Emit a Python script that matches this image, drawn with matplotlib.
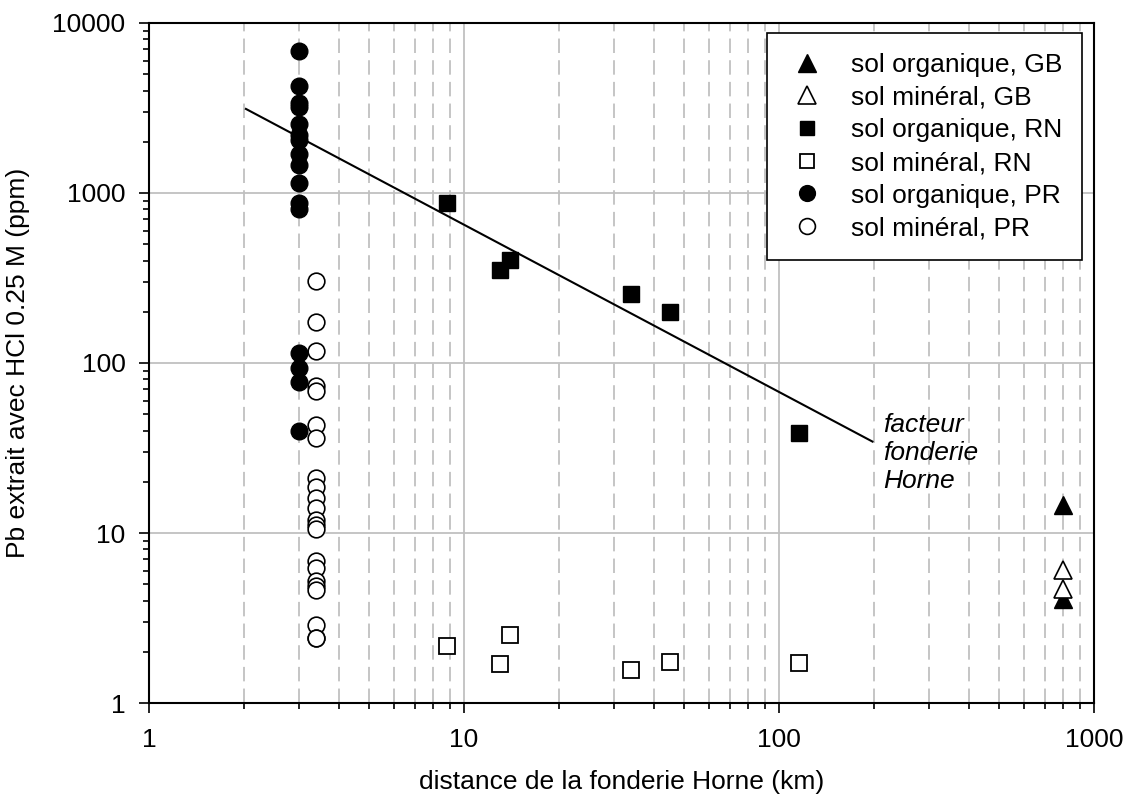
import numpy as np
import matplotlib
matplotlib.use("Agg")
import matplotlib.pyplot as plt
from matplotlib.ticker import LogLocator, FuncFormatter, NullFormatter

plt.rcParams['font.family'] = ['Liberation Sans', 'DejaVu Sans']

# data (distance km, Pb ppm)
gb_org_x = [800, 800]
gb_org_y = [14.6, 4.1]
gb_min_x = [800, 800]
gb_min_y = [6.05, 4.7]

rn_org_x = [8.8, 13.0, 14.0, 34.0, 45.0, 116]
rn_org_y = [870, 350, 405, 255, 200, 39]
rn_min_x = [8.8, 13.0, 14.0, 34.0, 45.0, 116]
rn_min_y = [2.17, 1.69, 2.5, 1.56, 1.75, 1.71]

pr_org_x = [3.0] * 16
pr_org_y = [6850, 4250, 3400, 3200, 2550, 2200, 2050, 1700, 1450,
            1150, 870, 800, 115, 93, 77, 40]
pr_min_x = [3.38] * 22
pr_min_y = [305, 175, 117, 73, 68, 43, 36, 21, 18.7, 16, 14, 11.9,
            11.1, 10.6, 6.8, 6.2, 5.2, 4.9, 4.6, 2.88, 2.42, 2.42]

trend_x = [2.03, 198]
trend_y = [3120, 34.5]

fs = 19

fig = plt.figure(figsize=(11.3, 7.98), dpi=100)
ax = fig.add_axes([0.1319, 0.119, 0.8362, 0.8523])

ax.set_xscale('log')
ax.set_yscale('log')
ax.set_xlim(1, 1000)
ax.set_ylim(1, 10000)

# grid: major solid both ways, minor dashed vertical only
ax.grid(True, which='major', color='#c0c0c0', lw=1.3, ls='-')
ax.xaxis.grid(True, which='minor', color='#c0c0c0', lw=1.3, ls=(0, (8, 4)))
ax.set_axisbelow(True)

ax.plot(trend_x, trend_y, color='black', lw=1.5, zorder=3)

ax.plot(gb_org_x, gb_org_y, ls='none', marker='^', ms=13, mfc='black', mec='black',
        label='sol organique, GB', zorder=4)
ax.plot(gb_min_x, gb_min_y, ls='none', marker='^', ms=13, mfc='white', mec='black',
        mew=1.2, label='sol minéral, GB', zorder=4)
ax.plot(rn_org_x, rn_org_y, ls='none', marker='s', ms=11, mfc='black', mec='black',
        label='sol organique, RN', zorder=4)
ax.plot(rn_min_x, rn_min_y, ls='none', marker='s', ms=11, mfc='white', mec='black',
        mew=1.3, label='sol minéral, RN', zorder=4)
ax.plot(pr_org_x, pr_org_y, ls='none', marker='o', ms=12, mfc='black', mec='black',
        label='sol organique, PR', zorder=4)
ax.plot(pr_min_x, pr_min_y, ls='none', marker='o', ms=12, mfc='white', mec='black',
        mew=1.2, label='sol minéral, PR', zorder=4)

ax.text(214, 29.5, 'facteur\nfonderie\nHorne', fontsize=fs, style='italic',
        va='center', ha='left', linespacing=1.22)

ax.xaxis.set_major_locator(LogLocator(base=10, numticks=10))
ax.yaxis.set_major_locator(LogLocator(base=10, numticks=10))
ax.xaxis.set_minor_locator(LogLocator(base=10, subs=np.arange(2, 10), numticks=20))
ax.yaxis.set_minor_locator(LogLocator(base=10, subs=np.arange(2, 10), numticks=20))
fmt = FuncFormatter(lambda v, p: '%d' % round(v))
ax.xaxis.set_major_formatter(fmt)
ax.yaxis.set_major_formatter(fmt)
ax.xaxis.set_minor_formatter(NullFormatter())
ax.yaxis.set_minor_formatter(NullFormatter())
ax.tick_params(which='major', direction='out', length=7, width=1.2, labelsize=fs)
ax.tick_params(axis='x', which='major', pad=11)
ax.tick_params(axis='y', which='major', pad=10)
ax.tick_params(which='minor', direction='out', length=4.5, width=1.2)
for s in ax.spines.values():
    s.set_linewidth(1.5)

ax.set_xlabel('distance de la fonderie Horne (km)', fontsize=fs, labelpad=13)
ax.set_ylabel('Pb extrait avec HCl 0.25 M (ppm)', fontsize=fs, labelpad=16)

leg = ax.legend(loc='upper right', bbox_to_anchor=(0.987, 0.985), borderaxespad=0,
                fontsize=fs, fancybox=False, edgecolor='black', framealpha=1,
                markerscale=0.95, handlelength=1.6, handletextpad=0.83,
                borderpad=0.75, labelspacing=0.33)
leg.get_frame().set_linewidth(1.2)

fig.savefig('out.png', dpi=100)
